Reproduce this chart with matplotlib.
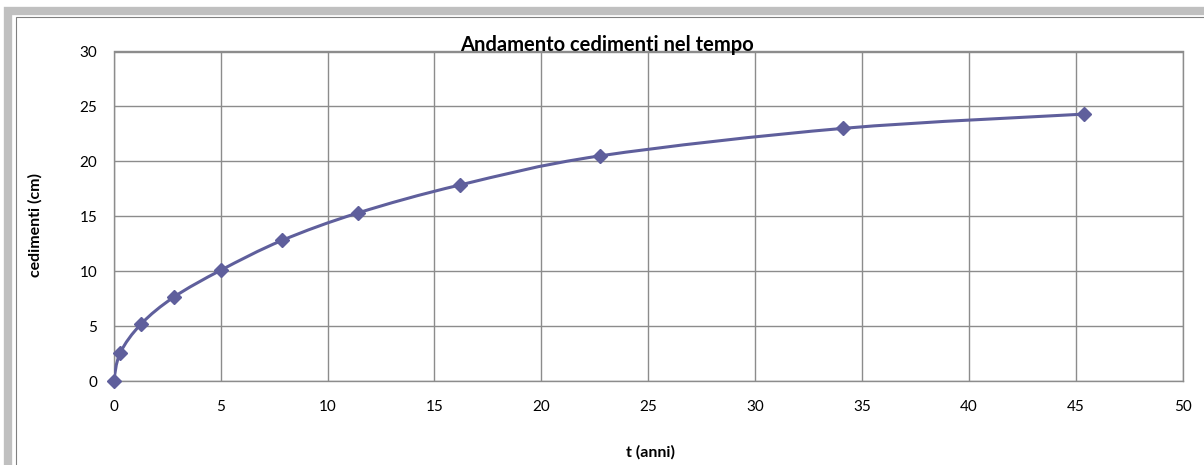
import numpy as np
import matplotlib.pyplot as plt
from matplotlib.path import Path
from matplotlib.patches import PathPatch, Rectangle

# Dati
t_anni = [0.0, 0.3, 1.28, 2.82, 5.02, 7.87, 11.42, 16.2, 22.75, 34.1, 45.37]
cedimenti = [0.0, 2.55, 5.19, 7.65, 10.1, 12.8, 15.3, 17.85, 20.5, 23.0, 24.3]

x_ticks = [0, 5, 10, 15, 20, 25, 30, 35, 40, 45, 50]
y_ticks = [0, 5, 10, 15, 20, 25, 30]

LINE_COL = '#5f5f9c'
GRID_COL = '#8c8c8c'

plt.rcParams['font.family'] = ['Lato', 'DejaVu Sans']


def smooth_path(xs, ys):
    # linea "smussata" stile Excel: bezier cubiche, tensione 1/6
    pts = np.column_stack([xs, ys])
    n = len(pts)
    verts = [pts[0]]
    codes = [Path.MOVETO]
    for i in range(n - 1):
        p0 = pts[i - 1] if i > 0 else pts[i]
        p1 = pts[i]
        p2 = pts[i + 1]
        p3 = pts[i + 2] if i + 2 < n else pts[i + 1]
        c1 = p1 + (p2 - p0) / 6.0
        c2 = p2 - (p3 - p1) / 6.0
        verts += [c1, c2, p2]
        codes += [Path.CURVE4] * 3
    return Path(verts, codes)


fig = plt.figure(figsize=(12.04, 4.65), dpi=100)

# cornice grigia del grafico
fig.patches.append(Rectangle((8 / 1204, -0.1), 1.2, (465 - 11) / 465 + 0.1,
                             transform=fig.transFigure, facecolor='none',
                             edgecolor='#c0c0c0', linewidth=6, zorder=0))
fig.patches.append(Rectangle((15.5 / 1204, -0.1), 1.2, (465 - 17) / 465 + 0.1,
                             transform=fig.transFigure, facecolor='none',
                             edgecolor='#808080', linewidth=0.8, zorder=0))

ax = fig.add_axes([113.7 / 1204, 1 - 381 / 465, (1183 - 113.7) / 1204, (381 - 51.5) / 465])

ax.add_patch(PathPatch(smooth_path(t_anni, cedimenti), facecolor='none',
                       edgecolor=LINE_COL, linewidth=2.2, zorder=3))
ax.plot(t_anni, cedimenti, linestyle='none', marker='D', markersize=7.5,
        color=LINE_COL, zorder=4, clip_on=False)

ax.set_xlim(0, 50)
ax.set_ylim(0, 30)
ax.set_xticks(x_ticks)
ax.set_yticks(y_ticks)
ax.grid(True, color=GRID_COL, linewidth=1.0)
ax.set_axisbelow(True)
for s in ax.spines.values():
    s.set_color(GRID_COL)
    s.set_linewidth(1.0)
ax.tick_params(length=0, labelsize=11, pad=14)
ax.tick_params(axis='y', pad=12)

fig.text(607 / 1204, 1 - 45 / 465, 'Andamento cedimenti nel tempo',
         ha='center', va='center', fontsize=14.5, fontweight='bold')
fig.text(35 / 1204, 1 - 225 / 465, 'cedimenti (cm)', rotation=90,
         ha='center', va='center', fontsize=11.5, fontweight='bold')
fig.text(651 / 1204, 1 - 452 / 465, 't (anni)',
         ha='center', va='center', fontsize=11.5, fontweight='bold')

fig.savefig('out.png', dpi=100)
